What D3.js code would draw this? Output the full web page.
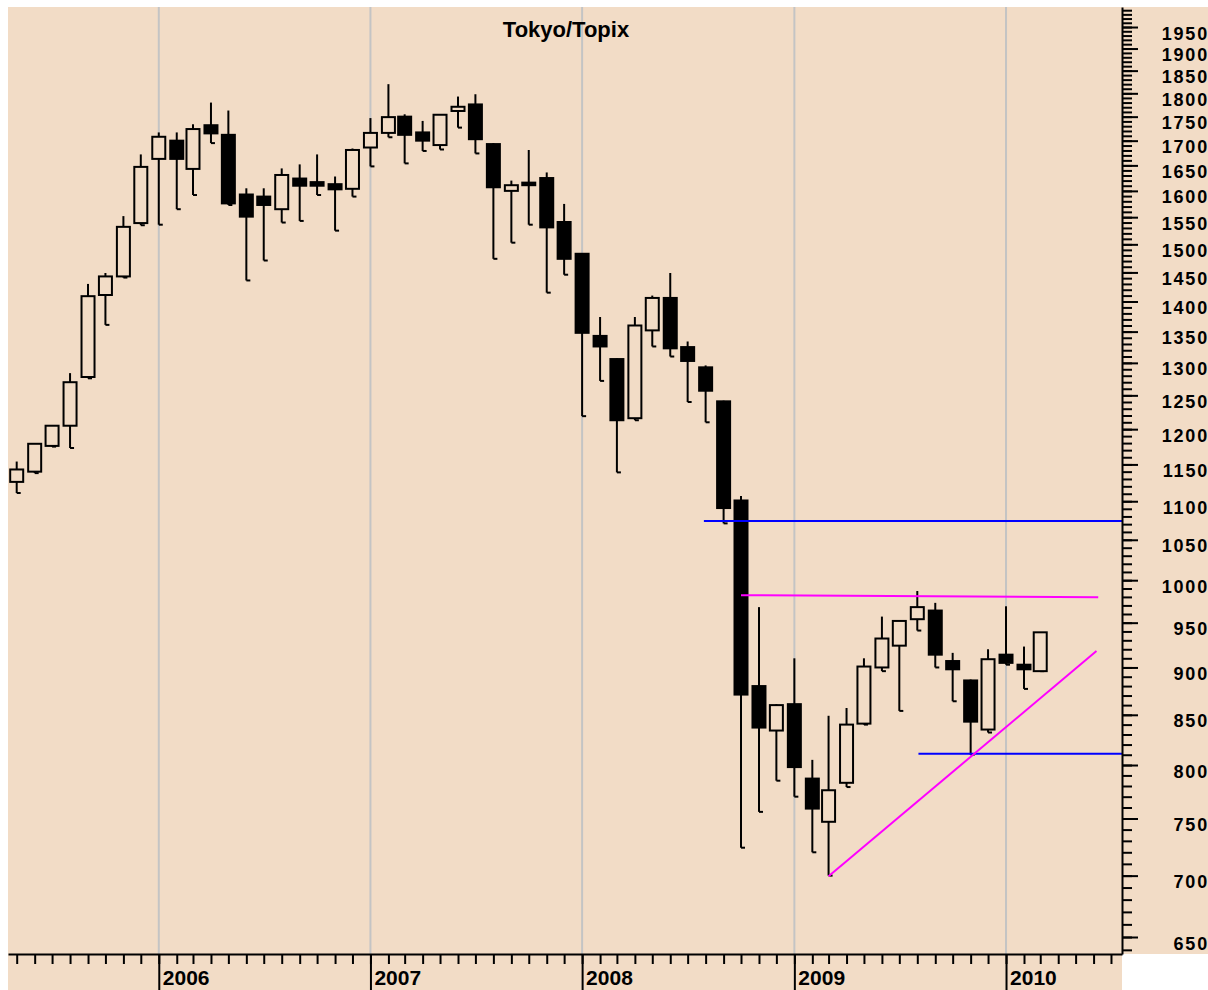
<!DOCTYPE html>
<html>
<head>
<meta charset="utf-8">
<script src="https://cdn.jsdelivr.net/npm/d3@7"></script>
<style>
body { margin:0; background:#fff; }
text { font-family: "Liberation Sans", Arial, sans-serif; font-weight:bold; fill:#000; }
</style>
</head>
<body>
<div id="chart"></div>
<script>
// monthly Topix candles, May 2005 - Mar 2010
const months = [
  "2005-05","2005-06","2005-07","2005-08","2005-09","2005-10","2005-11","2005-12",
  "2006-01","2006-02","2006-03","2006-04","2006-05","2006-06","2006-07","2006-08","2006-09","2006-10","2006-11","2006-12",
  "2007-01","2007-02","2007-03","2007-04","2007-05","2007-06","2007-07","2007-08","2007-09","2007-10","2007-11","2007-12",
  "2008-01","2008-02","2008-03","2008-04","2008-05","2008-06","2008-07","2008-08","2008-09","2008-10","2008-11","2008-12",
  "2009-01","2009-02","2009-03","2009-04","2009-05","2009-06","2009-07","2009-08","2009-09","2009-10","2009-11","2009-12",
  "2010-01","2010-02","2010-03"]

const opens = [
  1126,1140,1176,1205,1278,1411,1443,1539,
  1663,1700,1643,1732,1712,1593,1589,1565,1624,1617,1613,1604,
  1686,1716,1750,1717,1691,1762,1776,1693,1600,1616,1625,1541,
  1483,1343,1306,1216,1352,1406,1325,1293,1241,1101,880,834,
  861,787,747,783,841,900,924,954,964,907,886,835,
  914,903,896]

const highs = [
  1154,1180,1206,1284,1430,1449,1552,1672,
  1717,1717,1734,1780,1763,1605,1605,1644,1652,1672,1628,1684,
  1747,1820,1755,1741,1755,1793,1798,1695,1620,1681,1636,1575,
  1484,1374,1307,1374,1410,1449,1334,1296,1242,1107,968,861,
  910,805,849,857,910,957,952,987,973,916,887,920,
  969,923,939]

const lows = [
  1111,1138,1175,1173,1276,1361,1441,1535,
  1536,1565,1592,1695,1573,1436,1471,1540,1543,1592,1525,1589,
  1648,1707,1654,1679,1682,1727,1674,1474,1503,1536,1415,1446,
  1219,1272,1139,1213,1326,1310,1240,1210,1071,724,756,785,
  770,720,700,779,840,896,854,941,900,864,810,832,
  903,877,896]

const closes = [
  1143,1179,1205,1270,1409,1443,1532,1647,
  1708,1663,1724,1715,1576,1551,1573,1631,1610,1610,1603,1681,
  1716,1749,1712,1700,1754,1771,1703,1607,1611,1611,1531,1474,
  1348,1326,1213,1360,1406,1323,1303,1257,1091,871,837,860,
  798,759,776,840,901,932,952,968,914,898,843,909,
  905,898,939]

const years = ["2006","2007","2008","2009","2010"]
const priceLabels = [650,700,750,800,850,900,950,1000,1050,1100,1150,1200,1250,1300,
  1350,1400,1450,1500,1550,1600,1650,1700,1750,1800,1850,1900,1950]

// drawn support / resistance lines: [date, value]
const blueLines = [
  [["2008-07-29",1074],["2010-07-20",1074]],
  [["2009-08-03",811],["2010-07-20",811]]]
const magentaLines = [
  [["2008-10-01",982],["2010-06-09",979.5]],
  [["2009-03-01",699.5],["2010-06-06",918]]]

const W = 1208, H = 990
const plot = {left:8, top:7, right:1122, bottom:954}
const bg = "#f2dcc6"

const parseMonth = d3.timeParse("%Y-%m")
const parseDay = d3.timeParse("%Y-%m-%d")

const data = months.map((m,i) => ({
  date: parseMonth(m), o: opens[i], h: highs[i], l: lows[i], c: closes[i]
}))

const svg = d3.select("#chart").append("svg")
    .attr("width", W)
    .attr("height", H)

svg.append("rect")
    .attr("x", plot.left).attr("y", plot.top)
    .attr("width", W - plot.left).attr("height", plot.bottom - plot.top)
    .attr("fill", bg)
svg.append("rect")
    .attr("x", plot.left).attr("y", plot.bottom)
    .attr("width", plot.right - plot.left).attr("height", H - plot.bottom)
    .attr("fill", bg)

const x = d3.scaleTime()
    .domain([new Date(2005,3,16), new Date(2010,6,20)])
    .range([plot.left, plot.right])

const y = d3.scaleLog()
    .domain([636.8, 1997.7])
    .range([plot.bottom, plot.top])

// year grid
svg.selectAll(".grid")
    .data(years)
    .enter().append("line")
    .attr("class","grid")
    .attr("x1", d => x(d3.timeParse("%Y")(d)))
    .attr("x2", d => x(d3.timeParse("%Y")(d)))
    .attr("y1", plot.top)
    .attr("y2", plot.bottom)
    .style("stroke", "#c4c4c4")
    .style("stroke-width", 2)

// candles
const bw = 13
const candle = svg.selectAll(".candle")
    .data(data)
    .enter().append("g")
    .attr("class","candle")

candle.append("line")
    .attr("x1", d => x(d.date)).attr("x2", d => x(d.date))
    .attr("y1", d => y(d.h)).attr("y2", d => y(d.l))
    .style("stroke","#000").style("stroke-width",2)

candle.append("line")
    .attr("x1", d => x(d.date)).attr("x2", d => x(d.date) + 4)
    .attr("y1", d => y(d.l)).attr("y2", d => y(d.l))
    .style("stroke","#000").style("stroke-width",2)

candle.append("rect")
    .attr("x", d => x(d.date) - bw/2)
    .attr("y", d => y(Math.max(d.o, d.c)))
    .attr("width", bw)
    .attr("height", d => Math.max(2, Math.abs(y(d.o) - y(d.c))))
    .style("fill", d => d.c >= d.o ? bg : "#000")
    .style("stroke","#000")
    .style("stroke-width",2)

// trend lines
const line = d3.line()
    .x(d => x(parseDay(d[0])))
    .y(d => y(d[1]))

svg.selectAll(".blue")
    .data(blueLines)
    .enter().append("path")
    .attr("d", line)
    .style("fill","none").style("stroke","#0000ff").style("stroke-width",2)

svg.selectAll(".magenta")
    .data(magentaLines)
    .enter().append("path")
    .attr("d", line)
    .style("fill","none").style("stroke","#ff00ff").style("stroke-width",2)

// bottom axis: month ticks
const monthAxis = d3.axisBottom(x)
    .ticks(d3.timeMonth.every(1))
    .tickSize(10)
    .tickSizeOuter(0)
    .tickFormat("")

const gx = svg.append("g")
    .attr("transform", "translate(0," + plot.bottom + ")")
    .call(monthAxis)
gx.select(".domain").style("stroke","#000").style("stroke-width",2)
gx.selectAll(".tick line").style("stroke","#000").style("stroke-width",2)

// year ticks + labels
const yearAxis = d3.axisBottom(x)
    .tickValues(years.map(d => d3.timeParse("%Y")(d)))
    .tickSize(H - plot.bottom)
    .tickFormat(d3.timeFormat("%Y"))

const gy = svg.append("g")
    .attr("transform", "translate(0," + plot.bottom + ")")
    .call(yearAxis)
gy.select(".domain").remove()
gy.selectAll(".tick line").style("stroke","#000").style("stroke-width",2)
gy.selectAll(".tick text")
    .attr("x", 3.5)
    .attr("y", 31)
    .attr("dy", 0)
    .attr("text-anchor","start")
    .style("font-size","21px")

// right axis: minor ticks every 10
const minorAxis = d3.axisRight(y)
    .tickValues(d3.range(640, 2000, 10))
    .tickSize(10)
    .tickSizeOuter(0)
    .tickFormat("")

const gr = svg.append("g")
    .attr("transform", "translate(" + plot.right + ",0)")
    .call(minorAxis)
gr.select(".domain").style("stroke","#000").style("stroke-width",2)
gr.selectAll(".tick line").style("stroke","#000").style("stroke-width",2)

const majorAxis = d3.axisRight(y)
    .tickValues(priceLabels)
    .tickSize(16)
    .tickFormat(d3.format("d"))

const gm = svg.append("g")
    .attr("transform", "translate(" + plot.right + ",0)")
    .call(majorAxis)
gm.select(".domain").remove()
gm.selectAll(".tick line").style("stroke","#000").style("stroke-width",2)
gm.selectAll(".tick text")
    .attr("x", 87)
    .attr("dy", 12)
    .attr("text-anchor","end")
    .style("font-size","18px")
    .style("letter-spacing","1.8px")

// title
svg.append("text")
    .attr("x", 566)
    .attr("y", 37)
    .attr("text-anchor","middle")
    .style("font-size","22px")
    .text("Tokyo/Topix")
</script>
</body>
</html>
